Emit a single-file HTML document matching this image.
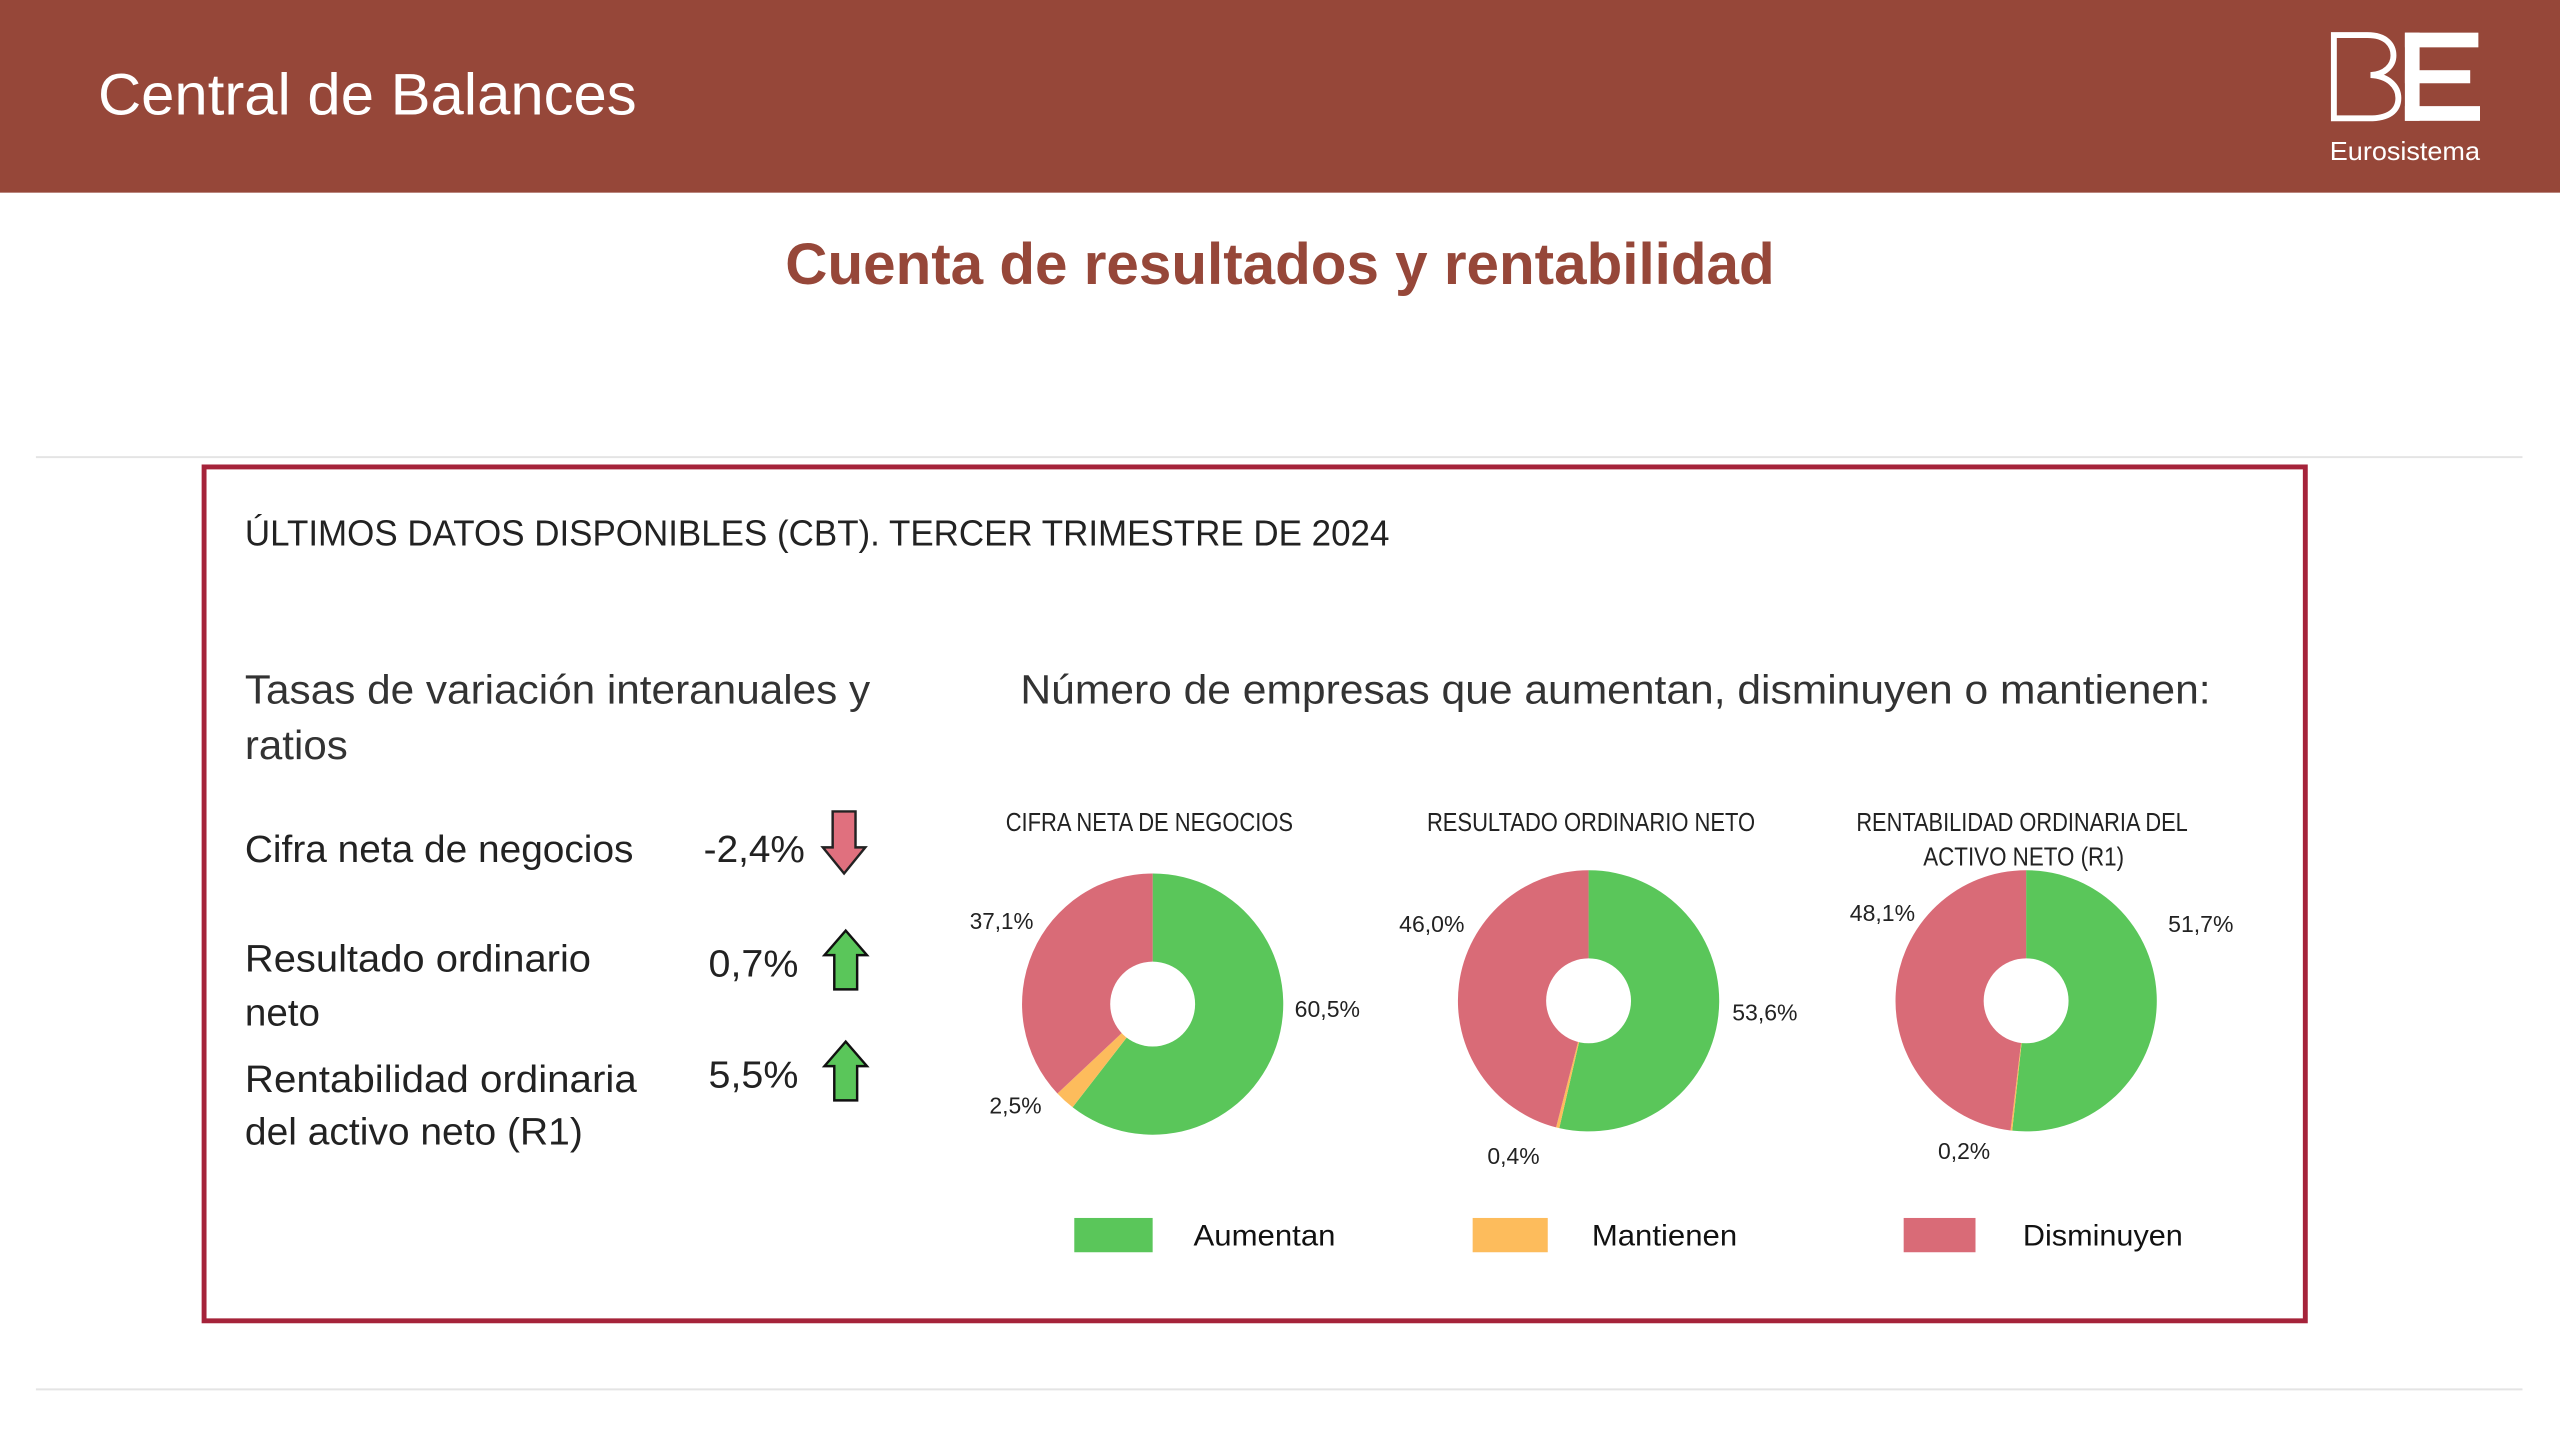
<!DOCTYPE html>
<html><head><meta charset="utf-8"><style>
html,body{margin:0;padding:0;background:#fff;}
svg{display:block;}
text{font-family:"Liberation Sans",sans-serif;}
</style></head><body>
<svg width="2560" height="1440" viewBox="0 0 1568 882" xmlns="http://www.w3.org/2000/svg">
<rect x="0" y="0" width="1568" height="118" fill="#964739"/>
<text x="60" y="70" font-size="36" fill="#fff" textLength="330" lengthAdjust="spacingAndGlyphs">Central de Balances</text>
<!-- BE logo -->
<path d="M1429.5 21.5 H1450 C1462 21.5 1466 28 1466 34 C1466 40 1461 45.5 1452 46 C1463 46.5 1469 53 1469 60 C1469 68 1463 72.5 1451 72.5 H1429.5 Z" fill="none" stroke="#fff" stroke-width="3.6"/>
<rect x="1473" y="20" width="9" height="54" fill="#fff"/>
<rect x="1473" y="20" width="45" height="9" fill="#fff"/>
<rect x="1473" y="43" width="40" height="8" fill="#fff"/>
<rect x="1473" y="65" width="46" height="9" fill="#fff"/>
<text x="1427" y="98" font-size="16" fill="#fff" textLength="92" lengthAdjust="spacingAndGlyphs">Eurosistema</text>

<text x="481" y="174" font-size="36" font-weight="bold" fill="#964739" textLength="606" lengthAdjust="spacingAndGlyphs">Cuenta de resultados y rentabilidad</text>

<line x1="22" y1="280" x2="1545" y2="280" stroke="#e4e4e4" stroke-width="1.2"/>
<line x1="22" y1="851" x2="1545" y2="851" stroke="#e4e4e4" stroke-width="1.2"/>

<rect x="125" y="286" width="1287" height="523" fill="none" stroke="#a5233a" stroke-width="3"/>

<text x="150" y="334" font-size="22" fill="#222" textLength="701" lengthAdjust="spacingAndGlyphs">ÚLTIMOS DATOS DISPONIBLES (CBT). TERCER TRIMESTRE DE 2024</text>

<text x="150" y="431" font-size="25" fill="#333" textLength="383" lengthAdjust="spacingAndGlyphs">Tasas de variación interanuales y</text>
<text x="150" y="465" font-size="25" fill="#333" textLength="63" lengthAdjust="spacingAndGlyphs">ratios</text>
<text x="625" y="431" font-size="25" fill="#333" textLength="729" lengthAdjust="spacingAndGlyphs">Número de empresas que aumentan, disminuyen o mantienen:</text>

<text x="150" y="528" font-size="23" fill="#222" textLength="238" lengthAdjust="spacingAndGlyphs">Cifra neta de negocios</text>
<text x="431" y="528" font-size="23" fill="#222" textLength="62" lengthAdjust="spacingAndGlyphs">-2,4%</text>
<text x="150" y="595" font-size="23" fill="#222" textLength="212" lengthAdjust="spacingAndGlyphs">Resultado ordinario</text>
<text x="150" y="628" font-size="23" fill="#222" textLength="46" lengthAdjust="spacingAndGlyphs">neto</text>
<text x="434" y="598" font-size="23" fill="#222" textLength="55" lengthAdjust="spacingAndGlyphs">0,7%</text>
<text x="150" y="669" font-size="23" fill="#222" textLength="240" lengthAdjust="spacingAndGlyphs">Rentabilidad ordinaria</text>
<text x="150" y="701" font-size="23" fill="#222" textLength="207" lengthAdjust="spacingAndGlyphs">del activo neto (R1)</text>
<text x="434" y="666" font-size="23" fill="#222" textLength="55" lengthAdjust="spacingAndGlyphs">5,5%</text>

<!-- arrows -->
<path d="M510 497 H524 V519 H530 L517 535 L504 519 H510 Z" fill="#e0707e" stroke="#222" stroke-width="1.5"/>
<path d="M511 606 H525 V585 H531 L518 570 L505 585 H511 Z" fill="#5ac65a" stroke="#111" stroke-width="1.5"/>
<path d="M511 674 H525 V653 H531 L518 638 L505 653 H511 Z" fill="#5ac65a" stroke="#111" stroke-width="1.5"/>

<!-- chart titles -->
<g font-size="16" fill="#222">
<text x="616" y="509" textLength="176" lengthAdjust="spacingAndGlyphs">CIFRA NETA DE NEGOCIOS</text>
<text x="874" y="509" textLength="201" lengthAdjust="spacingAndGlyphs">RESULTADO ORDINARIO NETO</text>
<text x="1137" y="509" textLength="203" lengthAdjust="spacingAndGlyphs">RENTABILIDAD ORDINARIA DEL</text>
<text x="1178" y="530" textLength="123" lengthAdjust="spacingAndGlyphs">ACTIVO NETO (R1)</text>
</g>

<!-- pie 1 -->
<path d="M706 615 L706 535 A80 80 0 1 1 656.97 678.22 Z" fill="#5ac65a"/>
<path d="M706 615 L656.97 678.22 A80 80 0 0 1 647.68 669.76 Z" fill="#fdbc5c"/>
<path d="M706 615 L647.68 669.76 A80 80 0 0 1 706 535 Z" fill="#d96b77"/>
<circle cx="706" cy="615" r="26" fill="#fff"/>
<!-- pie 2 -->
<path d="M973 613 L973 533 A80 80 0 1 1 955.06 690.96 Z" fill="#5ac65a"/>
<path d="M973 613 L955.06 690.96 A80 80 0 0 1 953.10 690.49 Z" fill="#fdbc5c"/>
<path d="M973 613 L953.10 690.49 A80 80 0 0 1 973 533 Z" fill="#d96b77"/>
<circle cx="973" cy="613" r="26" fill="#fff"/>
<!-- pie 3 -->
<path d="M1241 613 L1241 533 A80 80 0 1 1 1232.47 692.54 Z" fill="#5ac65a"/>
<path d="M1241 613 L1232.47 692.54 A80 80 0 0 1 1231.47 692.43 Z" fill="#fdbc5c"/>
<path d="M1241 613 L1231.47 692.43 A80 80 0 0 1 1241 533 Z" fill="#d96b77"/>
<circle cx="1241" cy="613" r="26" fill="#fff"/>

<g font-size="14" fill="#222">
<text x="594" y="569" textLength="39" lengthAdjust="spacingAndGlyphs">37,1%</text>
<text x="793" y="623" textLength="40" lengthAdjust="spacingAndGlyphs">60,5%</text>
<text x="606" y="682" textLength="32" lengthAdjust="spacingAndGlyphs">2,5%</text>
<text x="857" y="571" textLength="40" lengthAdjust="spacingAndGlyphs">46,0%</text>
<text x="1061" y="625" textLength="40" lengthAdjust="spacingAndGlyphs">53,6%</text>
<text x="911" y="713" textLength="32" lengthAdjust="spacingAndGlyphs">0,4%</text>
<text x="1133" y="564" textLength="40" lengthAdjust="spacingAndGlyphs">48,1%</text>
<text x="1328" y="571" textLength="40" lengthAdjust="spacingAndGlyphs">51,7%</text>
<text x="1187" y="710" textLength="32" lengthAdjust="spacingAndGlyphs">0,2%</text>
</g>

<!-- legend -->
<rect x="658" y="746" width="48" height="21" fill="#5ac65a"/>
<rect x="902" y="746" width="46" height="21" fill="#fdbc5c"/>
<rect x="1166" y="746" width="44" height="21" fill="#d96b77"/>
<g font-size="18" fill="#111">
<text x="731" y="763" textLength="87" lengthAdjust="spacingAndGlyphs">Aumentan</text>
<text x="975" y="763" textLength="89" lengthAdjust="spacingAndGlyphs">Mantienen</text>
<text x="1239" y="763" textLength="98" lengthAdjust="spacingAndGlyphs">Disminuyen</text>
</g>
</svg>
</body></html>
